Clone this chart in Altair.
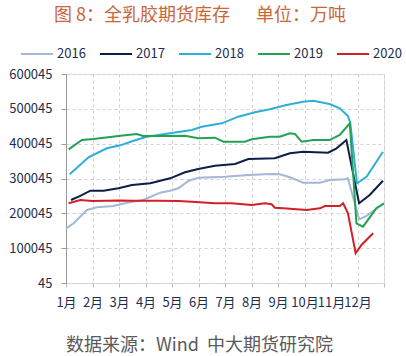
import altair as alt
import pandas as pd

years = ["2016", "2017", "2018", "2019", "2020"]
colors = ["#a2b8d6", "#0d1f45", "#2eaedb", "#24a154", "#d41f26"]

month_labels = ["1月", "2月", "3月", "4月", "5月", "6月", "7月", "8月", "9月", "10月", "11月", "12月"]
y_ticks = [45, 100045, 200045, 300045, 400045, 500045, 600045]

# x position in months (0 = 1月), value in tonnes
x2016 = [0.0, 0.29, 0.79, 1.17, 1.79, 2.30, 2.91, 3.55, 3.93, 4.24, 4.62, 4.99, 6.00, 6.88, 7.50, 7.88, 8.07, 8.45, 8.95, 9.58, 9.95, 10.52, 10.64, 11.06, 11.34, 11.71]
v2016 = [157000, 171400, 209600, 217300, 221100, 230500, 238300, 259300, 265000, 271900, 292800, 302300, 305200, 310100, 312000, 313000, 312100, 303500, 288000, 288000, 295700, 297700, 300600, 182900, 192400, 213000]

x2017 = [0.19, 0.54, 0.92, 1.42, 1.98, 2.49, 3.18, 3.93, 4.49, 4.99, 5.62, 6.38, 6.88, 7.88, 8.45, 8.95, 9.89, 10.21, 10.58, 11.06, 11.46, 11.96]
v2017 = [238300, 250000, 265000, 265000, 271900, 281400, 286200, 300600, 317800, 327300, 336800, 341600, 356000, 358000, 372400, 377000, 374100, 386700, 410500, 228800, 252600, 293700]

x2018 = [0.14, 0.85, 1.54, 2.05, 2.55, 3.05, 3.93, 4.75, 5.12, 5.88, 6.50, 7.13, 7.69, 8.32, 8.95, 9.33, 9.95, 10.33, 10.64, 10.73, 10.98, 11.34, 11.96]
v2018 = [312100, 360900, 386700, 395300, 408500, 420000, 430000, 439300, 448700, 458500, 477500, 490000, 498700, 511000, 520500, 523400, 513900, 501600, 479500, 458500, 286200, 305200, 377000]

x2019 = [0.10, 0.60, 1.04, 1.98, 2.67, 2.91, 3.50, 4.49, 4.99, 5.62, 5.94, 6.75, 7.01, 7.69, 8.07, 8.45, 8.64, 8.89, 9.33, 9.95, 10.33, 10.71, 10.96, 11.21, 11.71, 12.0]
v2019 = [383800, 410500, 413400, 422000, 427800, 422000, 422000, 423000, 415400, 417200, 405700, 405700, 412600, 420000, 420000, 429800, 428000, 405700, 410500, 410500, 424900, 458500, 171400, 161700, 214500, 228800]

x2020 = [0.10, 0.54, 1.0, 1.5, 2.0, 2.5, 3.0, 3.5, 4.24, 4.75, 5.62, 6.25, 7.01, 7.51, 7.76, 7.88, 8.20, 9.08, 9.58, 9.77, 10.33, 10.46, 10.64, 10.93, 11.15, 11.59]
v2020 = [228800, 238300, 235400, 236000, 237000, 236500, 236000, 236000, 235400, 233400, 228800, 228800, 224000, 228800, 226000, 216200, 214500, 209600, 214500, 221100, 221100, 228800, 200100, 85300, 109100, 142700]

series = {"2016": (x2016, v2016), "2017": (x2017, v2017), "2018": (x2018, v2018),
          "2019": (x2019, v2019), "2020": (x2020, v2020)}
rows = []
for yr, (xs, vs) in series.items():
    for i, (xx, vv) in enumerate(zip(xs, vs)):
        rows.append({"year": yr, "m": xx, "v": vv, "i": i})
df = pd.DataFrame(rows)

label_color = "#1f2d4d"
font = "Noto Sans CJK SC"

label_expr = "datum.value < 12 ? [" + ",".join("'%s'" % s for s in month_labels) + "][datum.value] : ''"

title_text = "图\u00a08：全乳胶期货库存\u3000\u00a0\u00a0单位：万吨"
source_text = "数据来源：Wind\u00a0\u00a0中大期货研究院"

chart = alt.Chart(df).mark_line(strokeWidth=2).encode(
    x=alt.X("m:Q",
            scale=alt.Scale(domain=[0, 12], nice=False, zero=False),
            axis=alt.Axis(values=list(range(13)), labelExpr=label_expr,
                          labelOverlap=False, labelFlush=False,
                          grid=True, gridDash=[3, 3], gridColor="#cfcfcf",
                          domain=False, ticks=True, tickSize=4, tickColor="#bbbbbb",
                          labelPadding=9, labelFontSize=13, labelColor=label_color,
                          labelFont=font,
                          title=source_text,
                          titleFont=font, titleFontSize=18, titleFontWeight="normal",
                          titleColor="#5a5a5a", titleX=133, titleY=62,
                          titleAnchor="start", titleAlign="center", titleBaseline="middle")),
    y=alt.Y("v:Q",
            scale=alt.Scale(domain=[45, 600045], nice=False, zero=False),
            axis=alt.Axis(values=y_ticks, format="d",
                          grid=True, gridDash=[3, 3], gridColor="#cfcfcf",
                          domain=True, domainColor="#9a9a9a",
                          ticks=True, tickSize=5, tickColor="#9a9a9a",
                          labelPadding=9, labelFontSize=13, labelColor=label_color,
                          labelFont=font, title=None)),
    color=alt.Color("year:N", scale=alt.Scale(domain=years, range=colors),
                    legend=alt.Legend(orient="none", direction="horizontal",
                                      legendX=-46, legendY=-37, title=None,
                                      symbolType="stroke", symbolSize=1024,
                                      symbolStrokeWidth=2, labelFontSize=13,
                                      labelFont=font, labelColor=label_color,
                                      labelOffset=3, columnPadding=10, padding=0)),
    order="i:Q",
).properties(
    width=318, height=209,
    padding={"left": 66, "top": 74, "right": 22, "bottom": 73},
    autosize=alt.AutoSizeParams(type="none"),
    title=alt.TitleParams(title_text, font=font, fontSize=18,
                          fontWeight="normal", color="#c8673a", anchor="middle",
                          dx=-25, offset=12),
).configure_view(stroke=None).configure(background="white")

chart.save("out.html", embed_options={"renderer": "svg", "actions": False})
